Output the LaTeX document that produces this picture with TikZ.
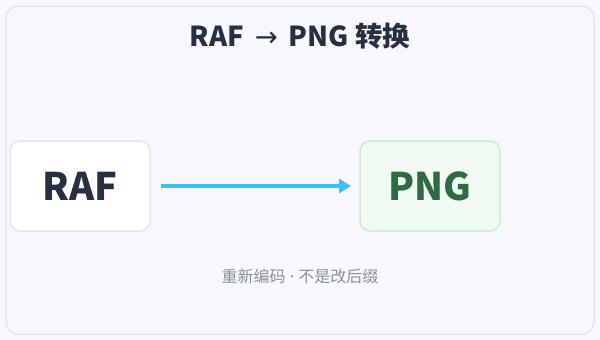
\documentclass[tikz,border=0pt]{standalone}
\usepackage{fontspec}
\setmainfont{Noto Sans CJK SC}
\newfontfamily\latinsym{Noto Sans}
\newfontfamily\arrowfont{DejaVu Sans}
\usetikzlibrary{arrows.meta}
\definecolor{pagebg}{HTML}{F7F8FC}
\definecolor{frame}{HTML}{E3E6EE}
\definecolor{ink}{HTML}{263042}
\definecolor{pngfill}{HTML}{F0FAF2}
\definecolor{pngedge}{HTML}{CDEBD3}
\definecolor{pngink}{HTML}{2E6B40}
\definecolor{arrowc}{HTML}{38C0F8}
\definecolor{note}{HTML}{8A8F9C}
\tikzset{
  fmtbox/.style={draw=frame, line width=1.5pt, fill=white, rounded corners=10pt,
    minimum width=140pt, minimum height=90pt, inner sep=0pt},
  fmttext/.style={font=\fontsize{38}{40}\selectfont\bfseries},
}
\begin{document}
\begin{tikzpicture}[x=1pt,y=-1pt]
\fill[pagebg] (0,0) rectangle (600,340);
\useasboundingbox (0,0) rectangle (600,340);
\draw[frame, fill=pagebg, line width=1.5pt, rounded corners=12pt] (6,6) rectangle (594,334);
\node[ink, font=\fontsize{27.5}{30}\selectfont\bfseries] (title) at (300,36) {RAF\hspace{11pt}{\arrowfont\mdseries →}\hspace{11pt}PNG 转换};
\node[fmtbox] (raf) at (80,186) {};
\node[fmttext, ink] at (raf.center) {RAF};
\node[fmtbox, fill=pngfill, draw=pngedge] (png) at (430,186) {};
\node[fmttext, pngink] at (png.center) {PNG};
\coordinate (a1) at (161,186);
\coordinate (a2) at (351,186);
\draw[arrowc, line width=3.5pt, -{Triangle[length=12pt,width=14pt]}] (a1) -- (a2);
\node[note, font=\fontsize{16}{18}\selectfont] (sub) at (300,276) {重新编码{\latinsym\ ·\ }不是改后缀};
\end{tikzpicture}
\end{document}
